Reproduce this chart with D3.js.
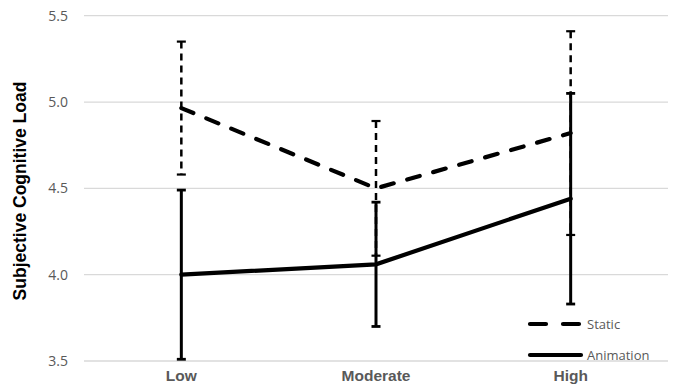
<!DOCTYPE html>
<html>
<head>
<meta charset="utf-8">
<script src="https://cdn.jsdelivr.net/npm/d3@7/dist/d3.min.js"></script>
<style>
  html, body { margin: 0; padding: 0; background: #fff; }
  svg { display: block; }
</style>
</head>
<body>
<svg id="chart" width="676" height="390"></svg>
<script>
// Categories and tick values
const categories = ["Low", "Moderate", "High"];
const yTicks = [3.5, 4.0, 4.5, 5.0, 5.5];

// Series means and error half-widths
const staticMeans = [4.965, 4.50, 4.82];
const staticErrors = [0.385, 0.39, 0.59];
const animationMeans = [4.00, 4.06, 4.44];
const animationErrors = [0.49, 0.36, 0.61];

const seriesNames = ["Static", "Animation"];

const svg = d3.select("#chart");
const width = 676, height = 390;
const margin = { left: 84, right: 8, top: 15.7, bottom: 29 };

const x = d3.scaleBand()
  .domain(categories)
  .range([margin.left, width - margin.right])
  .padding(0);

const y = d3.scaleLinear()
  .domain([3.5, 5.5])
  .range([height - margin.bottom, margin.top]);

const cx = c => x(c) + x.bandwidth() / 2;

// Horizontal gridlines
svg.append("g")
  .selectAll("line")
  .data(yTicks)
  .join("line")
  .attr("x1", margin.left)
  .attr("x2", width - margin.right)
  .attr("y1", d => y(d))
  .attr("y2", d => y(d))
  .attr("stroke", "#d9d9d9")
  .attr("stroke-width", 1.3);

// Y axis tick labels
const yAxis = d3.axisLeft(y).tickValues(yTicks).tickFormat(d3.format(".1f")).tickSize(0).tickPadding(16);
const gy = svg.append("g").attr("transform", `translate(${margin.left},0)`).call(yAxis);
gy.select(".domain").remove();
gy.selectAll("text")
  .attr("font-family", "'Open Sans', 'Noto Sans', sans-serif")
  .attr("font-size", 14)
  .attr("fill", "#595959");

// X axis category labels
const xAxis = d3.axisBottom(x).tickSize(0).tickPadding(9);
const gx = svg.append("g").attr("transform", `translate(0,${y(3.5)})`).call(xAxis);
gx.select(".domain").remove();
gx.selectAll("text")
  .attr("font-family", "'Liberation Sans', Arial, sans-serif")
  .attr("font-weight", "bold")
  .attr("font-size", 15.5)
  .attr("fill", "#595959");

// Y axis title
svg.append("text")
  .attr("transform", `translate(26,191) rotate(-90)`)
  .attr("text-anchor", "middle")
  .attr("font-family", "'Liberation Sans', Arial, sans-serif")
  .attr("font-weight", "bold")
  .attr("font-size", 17.5)
  .attr("fill", "#000")
  .text("Subjective Cognitive Load");

const line = d3.line().x(d => cx(d.c)).y(d => y(d.v));

function drawSeries(means, errors, dashed) {
  const pts = categories.map((c, i) => ({ c, v: means[i], e: errors[i] }));
  const g = svg.append("g");

  // Error bars
  const eb = g.selectAll("g.eb").data(pts).join("g").attr("class", "eb");
  eb.append("line")
    .attr("x1", d => cx(d.c)).attr("x2", d => cx(d.c))
    .attr("y1", d => y(d.v + d.e)).attr("y2", d => y(d.v - d.e))
    .attr("stroke", "#000")
    .attr("stroke-width", dashed ? 2.5 : 3)
    .attr("stroke-dasharray", dashed ? "7,5" : null);
  [1, -1].forEach(s => {
    eb.append("line")
      .attr("x1", d => cx(d.c) - 4.5).attr("x2", d => cx(d.c) + 4.5)
      .attr("y1", d => y(d.v + s * d.e)).attr("y2", d => y(d.v + s * d.e))
      .attr("stroke", "#000")
      .attr("stroke-width", dashed ? 2.2 : 2.8);
  });

  // Mean line
  g.append("path")
    .datum(pts)
    .attr("d", line)
    .attr("fill", "none")
    .attr("stroke", "#000")
    .attr("stroke-width", 4.2)
    .attr("stroke-linecap", "round")
    .attr("stroke-dasharray", dashed ? "13,14" : null);
}

drawSeries(staticMeans, staticErrors, true);
drawSeries(animationMeans, animationErrors, false);

// Legend
const legend = svg.append("g");
const legendRows = [
  { name: seriesNames[0], dashed: true, y: 324 },
  { name: seriesNames[1], dashed: false, y: 355 }
];
legendRows.forEach(r => {
  legend.append("line")
    .attr("x1", 530).attr("x2", 581)
    .attr("y1", r.y).attr("y2", r.y)
    .attr("stroke", "#000")
    .attr("stroke-width", 4.2)
    .attr("stroke-linecap", "round")
    .attr("stroke-dasharray", r.dashed ? "16,17" : null);
  legend.append("text")
    .attr("x", 587)
    .attr("y", r.y + 4.5)
    .attr("font-family", "'Open Sans', 'Noto Sans', sans-serif")
    .attr("font-size", 13)
    .attr("fill", "#595959")
    .text(r.name);
});
</script>
</body>
</html>
